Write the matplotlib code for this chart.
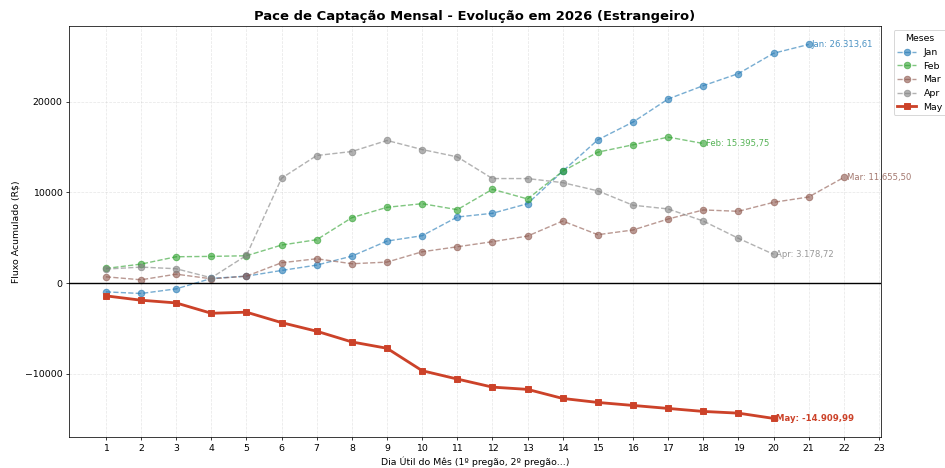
import matplotlib
matplotlib.use("Agg")
import matplotlib.pyplot as plt

jan = [-960, -1140, -630, 520, 770, 1400, 1990, 2980, 4640, 5230, 7290, 7700,
       8760, 12340, 15800, 17760, 20300, 21770, 23100, 25340, 26313.61]
feb = [1620, 2100, 2910, 2950, 3020, 4200, 4790, 7220, 8360, 8760, 8100, 10350,
       9280, 12340, 14440, 15250, 16100, 15395.75]
mar = [700, 370, 990, 480, 770, 2250, 2690, 2140, 2320, 3460, 4010, 4570,
       5190, 6850, 5340, 5860, 7070, 8070, 7920, 8910, 9500, 11655.50]
apr = [1550, 1770, 1590, 590, 3060, 11570, 14070, 14510, 15730, 14730, 13920, 11530,
       11530, 11080, 10170, 8590, 8180, 6850, 4940, 3178.72]
may = [-1400, -1880, -2180, -3320, -3200, -4350, -5300, -6480, -7180, -9650, -10570, -11460,
       -11710, -12710, -13150, -13480, -13810, -14140, -14330, -14909.99]

months = ["Jan", "Feb", "Mar", "Apr", "May"]
series = [jan, feb, mar, apr, may]
colors = ["#1f77b4", "#2ca02c", "#8c564b", "#7f7f7f", "#cc4229"]


def fmt_br(v):
    s = f"{v:,.2f}"
    return s.replace(",", "X").replace(".", ",").replace("X", ".")


fig = plt.figure(figsize=(14, 468 / 67.5), dpi=67.5)
ax = fig.add_axes([0.073, 0.066, 0.859, 0.879])

for name, vals, c in zip(months, series, colors):
    days = list(range(1, len(vals) + 1))
    if name == "May":
        ax.plot(days, vals, color=c, marker="s", linewidth=3, markersize=7,
                label=name, zorder=5)
        ax.annotate(f"{name}: {fmt_br(vals[-1])}", (days[-1], vals[-1]),
                    xytext=(3, 0), textcoords="offset points", va="center",
                    fontsize=9, color=c, fontweight="bold")
    else:
        ax.plot(days, vals, color=c, marker="o", linestyle="--", linewidth=1.5,
                markersize=7, alpha=0.6, label=name)
        ax.annotate(f"{name}: {fmt_br(vals[-1])}", (days[-1], vals[-1]),
                    xytext=(3, 0), textcoords="offset points", va="center",
                    fontsize=9, color=c, alpha=0.8)

ax.axhline(0, color="black", linewidth=1.5)
ax.set_xticks(range(1, 24))
ax.grid(True, linestyle="--", alpha=0.3)
ax.set_title("Pace de Captação Mensal - Evolução em 2026 (Estrangeiro)",
             fontsize=14, fontweight="bold")
ax.set_xlabel("Dia Útil do Mês (1º pregão, 2º pregão...)", fontsize=10)
ax.set_ylabel("Fluxo Acumulado (R$)", fontsize=10)
ax.legend(title="Meses", loc="upper left", bbox_to_anchor=(1.01, 1))

fig.savefig("out.png", dpi=67.5)
